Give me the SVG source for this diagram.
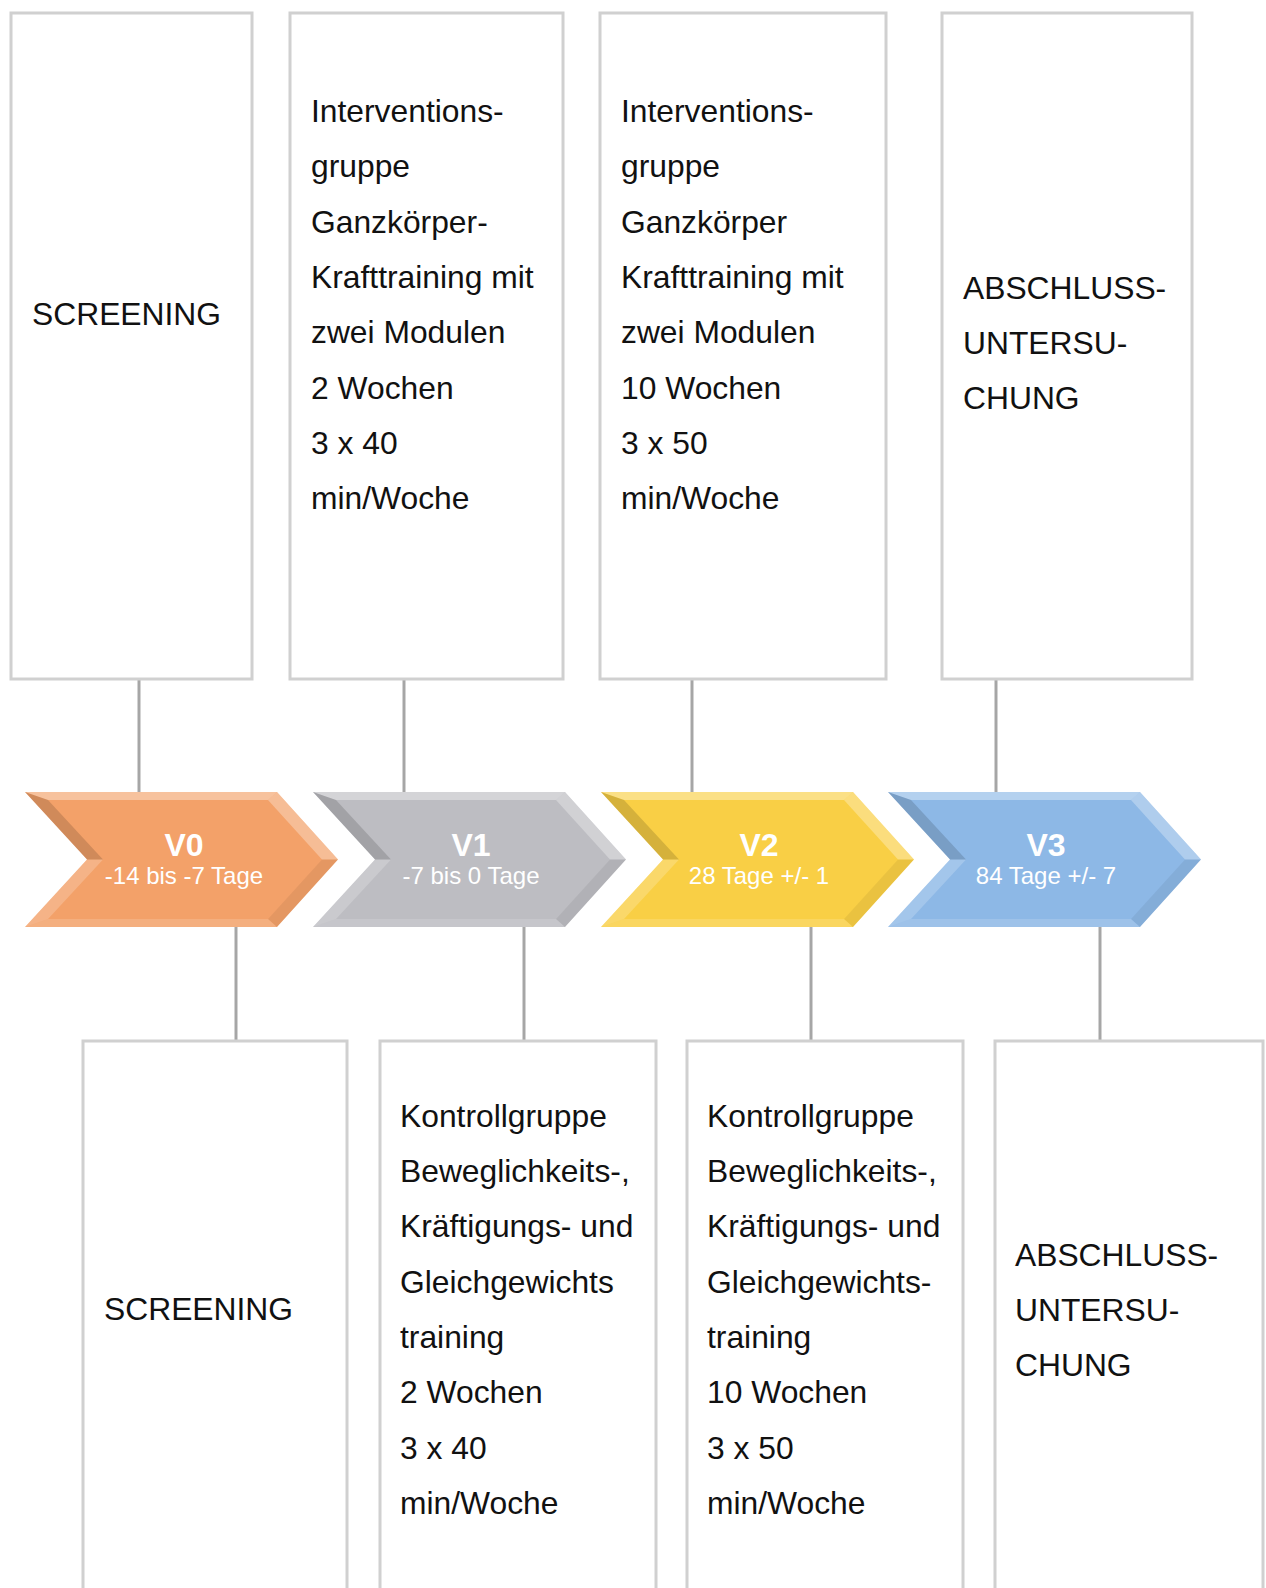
<svg xmlns="http://www.w3.org/2000/svg" width="1266" height="1588" viewBox="0 0 1266 1588">
<style>
.box{fill:#fff;stroke:#d0d0d0;stroke-width:3}
.t{font-family:"Liberation Sans",Arial,sans-serif;font-size:31.8px;fill:#111}
.conn{stroke:#a6a6a6;stroke-width:3;fill:none}
.vt{font-family:"Liberation Sans",Arial,sans-serif;font-size:32px;font-weight:bold;fill:#fff;text-anchor:middle}
.vs{font-family:"Liberation Sans",Arial,sans-serif;font-size:24px;fill:#fff;text-anchor:middle}
</style>
<defs>
<polygon id="chev" points="0,0 252,0 313,67.5 252,135 0,135 62,67.5"/>
<g id="bevel">
<polygon points="0,0 252,0 243,8 23,8" fill="#fff" fill-opacity="0.35"/>
<polygon points="252,0 313,67.5 297,67.5 243,8" fill="#fff" fill-opacity="0.3"/>
<polygon points="313,67.5 252,135 243,127 297,67.5" fill="#000" fill-opacity="0.06"/>
<polygon points="252,135 0,135 23,127 243,127" fill="#fff" fill-opacity="0.15"/>
<polygon points="0,135 62,67.5 78,67.5 23,127" fill="#fff" fill-opacity="0.2"/>
<polygon points="62,67.5 0,0 23,8 78,67.5" fill="#000" fill-opacity="0.14"/>
</g>
</defs>
<rect width="1266" height="1588" fill="#fff"/>
<g id="connectors">
<line class="conn" x1="139" y1="679" x2="139" y2="793"/>
<line class="conn" x1="404" y1="679" x2="404" y2="793"/>
<line class="conn" x1="692" y1="679" x2="692" y2="793"/>
<line class="conn" x1="996" y1="679" x2="996" y2="793"/>
<line class="conn" x1="236" y1="926" x2="236" y2="1041"/>
<line class="conn" x1="524" y1="926" x2="524" y2="1041"/>
<line class="conn" x1="811" y1="926" x2="811" y2="1041"/>
<line class="conn" x1="1100" y1="926" x2="1100" y2="1041"/>
</g>
<g id="box-screening-top">
<rect class="box" x="11" y="13" width="241" height="666"/>
<text class="t" x="32" y="325">SCREENING</text>
</g>
<g id="box-interv-1">
<rect class="box" x="290" y="13" width="273" height="666"/>
<text class="t" x="311" y="122">Interventions-</text>
<text class="t" x="311" y="177.3">gruppe</text>
<text class="t" x="311" y="232.6">Ganzkörper-</text>
<text class="t" x="311" y="287.9">Krafttraining mit</text>
<text class="t" x="311" y="343.2">zwei Modulen</text>
<text class="t" x="311" y="398.5">2 Wochen</text>
<text class="t" x="311" y="453.8">3 x 40</text>
<text class="t" x="311" y="509.1">min/Woche</text>
</g>
<g id="box-interv-2">
<rect class="box" x="600" y="13" width="286" height="666"/>
<text class="t" x="621" y="122">Interventions-</text>
<text class="t" x="621" y="177.3">gruppe</text>
<text class="t" x="621" y="232.6">Ganzkörper</text>
<text class="t" x="621" y="287.9">Krafttraining mit</text>
<text class="t" x="621" y="343.2">zwei Modulen</text>
<text class="t" x="621" y="398.5">10 Wochen</text>
<text class="t" x="621" y="453.8">3 x 50</text>
<text class="t" x="621" y="509.1">min/Woche</text>
</g>
<g id="box-abschluss-top">
<rect class="box" x="942" y="13" width="250" height="666"/>
<text class="t" x="963" y="299">ABSCHLUSS-</text>
<text class="t" x="963" y="354">UNTERSU-</text>
<text class="t" x="963" y="409">CHUNG</text>
</g>
<g id="v0">
<use href="#chev" transform="translate(25,792)" fill="#f3a169"/>
<use href="#bevel" transform="translate(25,792)"/>
<text class="vt" x="184" y="856">V0</text>
<text class="vs" x="184" y="884">-14 bis -7 Tage</text>
</g>
<g id="v1">
<use href="#chev" transform="translate(313,792)" fill="#bdbdc2"/>
<use href="#bevel" transform="translate(313,792)"/>
<text class="vt" x="471" y="856">V1</text>
<text class="vs" x="471" y="884" fill="#f2f2f2">-7 bis 0 Tage</text>
</g>
<g id="v2">
<use href="#chev" transform="translate(601,792)" fill="#f9cf45"/>
<use href="#bevel" transform="translate(601,792)"/>
<text class="vt" x="759" y="856">V2</text>
<text class="vs" x="759" y="884">28 Tage +/- 1</text>
</g>
<g id="v3">
<use href="#chev" transform="translate(888,792)" fill="#8db8e6"/>
<use href="#bevel" transform="translate(888,792)"/>
<text class="vt" x="1046" y="856">V3</text>
<text class="vs" x="1046" y="884">84 Tage +/- 7</text>
</g>
<g id="box-screening-bottom">
<rect class="box" x="83" y="1041" width="264" height="600"/>
<text class="t" x="104" y="1320">SCREENING</text>
</g>
<g id="box-kontroll-1">
<rect class="box" x="380" y="1041" width="276" height="600"/>
<text class="t" x="400" y="1126.7">Kontrollgruppe</text>
<text class="t" x="400" y="1182">Beweglichkeits-,</text>
<text class="t" x="400" y="1237.3">Kräftigungs- und</text>
<text class="t" x="400" y="1292.6">Gleichgewichts</text>
<text class="t" x="400" y="1347.9">training</text>
<text class="t" x="400" y="1403.2">2 Wochen</text>
<text class="t" x="400" y="1458.5">3 x 40</text>
<text class="t" x="400" y="1513.8">min/Woche</text>
</g>
<g id="box-kontroll-2">
<rect class="box" x="687" y="1041" width="276" height="600"/>
<text class="t" x="707" y="1126.7">Kontrollgruppe</text>
<text class="t" x="707" y="1182">Beweglichkeits-,</text>
<text class="t" x="707" y="1237.3">Kräftigungs- und</text>
<text class="t" x="707" y="1292.6">Gleichgewichts-</text>
<text class="t" x="707" y="1347.9">training</text>
<text class="t" x="707" y="1403.2">10 Wochen</text>
<text class="t" x="707" y="1458.5">3 x 50</text>
<text class="t" x="707" y="1513.8">min/Woche</text>
</g>
<g id="box-abschluss-bottom">
<rect class="box" x="995" y="1041" width="268" height="600"/>
<text class="t" x="1015" y="1266">ABSCHLUSS-</text>
<text class="t" x="1015" y="1321">UNTERSU-</text>
<text class="t" x="1015" y="1376">CHUNG</text>
</g>
</svg>
